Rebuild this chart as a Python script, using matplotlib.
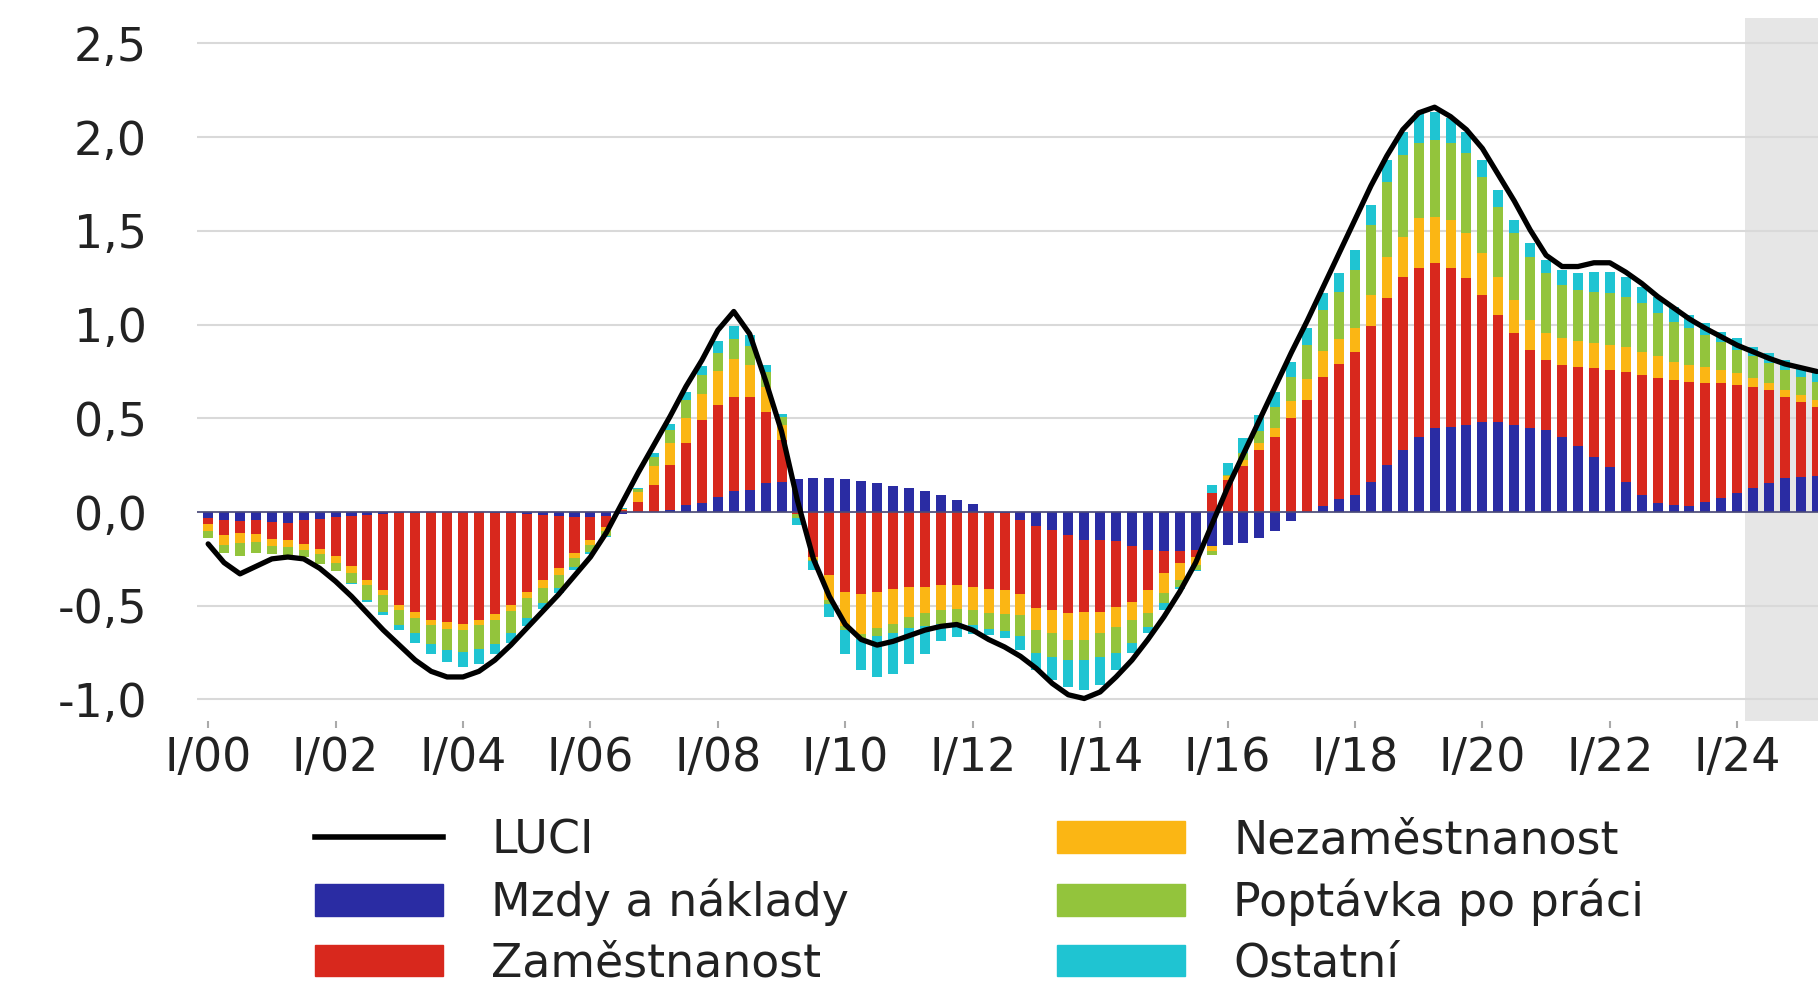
import numpy as np
import matplotlib.pyplot as plt
from matplotlib.patches import Patch
from matplotlib.lines import Line2D

plt.rcParams['font.family'] = ['DejaVu Sans']

# quarters I/00 .. II/25 (index 0 = I/00)
quarters = np.arange(102)
tick_pos = np.arange(0, 97, 8)
tick_labels = ['I/%02d' % y for y in range(0, 25, 2)]
y_ticks = [-1.0, -0.5, 0.0, 0.5, 1.0, 1.5, 2.0, 2.5]

luci = [-0.17, -0.27, -0.33, -0.29, -0.25, -0.24, -0.25, -0.30, -0.37, -0.45,
        -0.54, -0.63, -0.71, -0.79, -0.85, -0.88, -0.88, -0.85, -0.79, -0.71,
        -0.62, -0.53, -0.44, -0.34, -0.24, -0.11, 0.05, 0.21, 0.36, 0.51,
        0.67, 0.81, 0.97, 1.07, 0.95, 0.70, 0.43, 0.06, -0.25, -0.45,
        -0.60, -0.68, -0.71, -0.69, -0.66, -0.63, -0.61, -0.60, -0.63, -0.68,
        -0.72, -0.77, -0.835, -0.915, -0.975, -0.995, -0.96, -0.88, -0.79, -0.68,
        -0.56, -0.425, -0.27, -0.07, 0.13, 0.31, 0.49, 0.67, 0.85, 1.02,
        1.20, 1.38, 1.56, 1.74, 1.90, 2.04, 2.13, 2.16, 2.11, 2.04,
        1.94, 1.80, 1.66, 1.505, 1.37, 1.31, 1.31, 1.33, 1.33, 1.28,
        1.22, 1.15, 1.09, 1.03, 0.98, 0.935, 0.89, 0.855, 0.82, 0.79,
        0.77, 0.75]

mzdy = [-0.03, -0.045, -0.05, -0.045, -0.055, -0.06, -0.045, -0.035, -0.025, -0.02,
        -0.015, -0.01, -0.005, -0.003, -0.002, -0.002, -0.002, -0.002, -0.003, -0.005,
        -0.01, -0.015, -0.02, -0.025, -0.025, -0.02, -0.01, 0.0, 0.0, 0.01,
        0.035, 0.05, 0.08, 0.11, 0.12, 0.155, 0.16, 0.175, 0.18, 0.18,
        0.175, 0.163, 0.154, 0.137, 0.128, 0.11, 0.092, 0.066, 0.044, 0.0,
        -0.005, -0.04, -0.076, -0.094, -0.12, -0.147, -0.147, -0.156, -0.18, -0.2,
        -0.21, -0.21, -0.2, -0.18, -0.174, -0.165, -0.14, -0.1, -0.05, 0.0,
        0.03, 0.07, 0.09, 0.16, 0.25, 0.33, 0.40, 0.447, 0.455, 0.464,
        0.482, 0.482, 0.464, 0.447, 0.438, 0.40, 0.35, 0.295, 0.242, 0.162,
        0.09, 0.046, 0.037, 0.032, 0.055, 0.073, 0.10, 0.126, 0.153, 0.18,
        0.189, 0.19]

zamestnanost = [-0.035, -0.08, -0.06, -0.07, -0.09, -0.09, -0.125, -0.16, -0.21, -0.27,
                -0.35, -0.405, -0.49, -0.53, -0.575, -0.585, -0.595, -0.575, -0.54, -0.49,
                -0.415, -0.345, -0.28, -0.195, -0.125, -0.06, 0.01, 0.055, 0.145, 0.24,
                0.335, 0.44, 0.49, 0.505, 0.495, 0.38, 0.225, -0.01, -0.24, -0.335,
                -0.425, -0.435, -0.425, -0.41, -0.40, -0.40, -0.39, -0.39, -0.40, -0.41,
                -0.41, -0.40, -0.438, -0.429, -0.421, -0.385, -0.385, -0.349, -0.299, -0.216,
                -0.117, -0.064, -0.038, 0.10, 0.17, 0.245, 0.33, 0.40, 0.50, 0.60,
                0.69, 0.72, 0.765, 0.83, 0.89, 0.926, 0.90, 0.88, 0.845, 0.783,
                0.676, 0.57, 0.49, 0.418, 0.373, 0.385, 0.426, 0.472, 0.516, 0.587,
                0.641, 0.668, 0.668, 0.664, 0.632, 0.614, 0.578, 0.543, 0.498, 0.436,
                0.40, 0.372]

nezamestnanost = [-0.035, -0.05, -0.055, -0.045, -0.035, -0.035, -0.035, -0.027, -0.035, -0.035,
                  -0.027, -0.027, -0.027, -0.035, -0.027, -0.035, -0.035, -0.027, -0.035, -0.035,
                  -0.035, -0.045, -0.035, -0.027, -0.027, -0.02, 0.005, 0.05, 0.10, 0.12,
                  0.13, 0.14, 0.18, 0.20, 0.17, 0.13, 0.08, 0.0, -0.015, -0.135,
                  -0.185, -0.215, -0.195, -0.185, -0.16, -0.14, -0.135, -0.125, -0.125, -0.13,
                  -0.13, -0.107, -0.116, -0.125, -0.142, -0.151, -0.116, -0.107, -0.098, -0.125,
                  -0.107, -0.089, -0.045, -0.03, 0.02, 0.03, 0.04, 0.05, 0.09, 0.11,
                  0.14, 0.135, 0.126, 0.17, 0.22, 0.214, 0.27, 0.249, 0.26, 0.243,
                  0.222, 0.204, 0.176, 0.16, 0.143, 0.142, 0.134, 0.133, 0.132, 0.134,
                  0.125, 0.116, 0.095, 0.089, 0.089, 0.071, 0.062, 0.045, 0.036, 0.034,
                  0.036, 0.036]

poptavka = [-0.04, -0.045, -0.07, -0.06, -0.045, -0.045, -0.035, -0.055, -0.045, -0.055,
            -0.08, -0.09, -0.08, -0.08, -0.10, -0.115, -0.115, -0.125, -0.125, -0.115,
            -0.105, -0.08, -0.07, -0.045, -0.035, -0.03, 0.0, 0.02, 0.05, 0.07,
            0.10, 0.10, 0.10, 0.11, 0.10, 0.08, 0.04, -0.02, -0.005, -0.02,
            -0.02, -0.03, -0.04, -0.05, -0.06, -0.07, -0.075, -0.075, -0.08, -0.085,
            -0.09, -0.115, -0.124, -0.124, -0.107, -0.107, -0.124, -0.142, -0.124, -0.071,
            -0.054, -0.036, -0.027, -0.02, 0.01, 0.04, 0.06, 0.11, 0.13, 0.18,
            0.22, 0.25, 0.31, 0.37, 0.40, 0.436, 0.398, 0.41, 0.408, 0.425,
            0.41, 0.374, 0.358, 0.338, 0.32, 0.285, 0.275, 0.276, 0.277, 0.267,
            0.258, 0.23, 0.216, 0.195, 0.169, 0.151, 0.125, 0.116, 0.107, 0.108,
            0.097, 0.098]

ostatni = [0.0, 0.0, 0.0, 0.0, 0.0, 0.0, 0.0, 0.0, 0.0, -0.005,
           -0.008, -0.018, -0.027, -0.053, -0.053, -0.062, -0.08, -0.08, -0.053, -0.053,
           -0.045, -0.035, -0.027, -0.018, -0.01, -0.005, 0.005, 0.005, 0.02, 0.03,
           0.04, 0.05, 0.06, 0.07, 0.06, 0.04, 0.02, -0.04, -0.05, -0.07,
           -0.125, -0.165, -0.22, -0.22, -0.19, -0.145, -0.09, -0.075, -0.045, -0.03,
           -0.035, -0.072, -0.089, -0.125, -0.142, -0.16, -0.151, -0.089, -0.053, -0.036,
           -0.035, -0.01, -0.005, 0.045, 0.06, 0.08, 0.09, 0.08, 0.08, 0.09,
           0.09, 0.10, 0.105, 0.11, 0.12, 0.12, 0.16, 0.151, 0.132, 0.115,
           0.089, 0.089, 0.071, 0.071, 0.071, 0.08, 0.089, 0.107, 0.116, 0.106,
           0.089, 0.089, 0.08, 0.072, 0.062, 0.054, 0.062, 0.053, 0.053, 0.053,
           0.054, 0.044]

series = [
    ('Mzdy a náklady', mzdy, '#2a2ca3'),
    ('Zaměstnanost', zamestnanost, '#d8281d'),
    ('Nezaměstnanost', nezamestnanost, '#fbb614'),
    ('Poptávka po práci', poptavka, '#93c43c'),
    ('Ostatní', ostatni, '#1fc4d2'),
]

fig = plt.figure(figsize=(18.18, 10), dpi=100)
ax = fig.add_axes([197 / 1818, 0.279, 1 - 197 / 1818, 0.703])

# shaded part at the end
ax.axvspan(96.5, 102, color='#e6e6e6', zorder=0, lw=0)

pos_base = np.zeros(len(quarters))
neg_base = np.zeros(len(quarters))
for name, vals, col in series:
    v = np.array(vals)
    pos = np.where(v > 0, v, 0)
    neg = np.where(v < 0, v, 0)
    ax.bar(quarters, pos, bottom=pos_base, width=0.63, color=col, lw=0, zorder=2)
    ax.bar(quarters, neg, bottom=neg_base, width=0.63, color=col, lw=0, zorder=2)
    pos_base += pos
    neg_base += neg

ax.axhline(0, color='#4a4a7a', lw=1.2, zorder=3)
ax.plot(quarters, luci, color='black', lw=3.8, zorder=4,
        solid_capstyle='round', solid_joinstyle='round')

ax.set_xlim(-0.7, 101.07)
ax.set_ylim(-1.115, 2.636)
ax.set_yticks(y_ticks)
ax.set_yticklabels([('%.1f' % t).replace('.', ',') for t in y_ticks])
ax.set_xticks(tick_pos)
ax.set_xticklabels(tick_labels)
ax.grid(axis='y', color='#d9d9d9', lw=1.5, zorder=1)
ax.set_axisbelow(True)
for s in ax.spines.values():
    s.set_visible(False)
ax.tick_params(axis='y', length=0, pad=36, labelsize=33, labelcolor='#222222')
ax.tick_params(axis='x', length=5, width=1.5, color='#aaaaaa', pad=6,
               labelsize=33, labelcolor='#222222')

h1 = [Line2D([0], [0], color='black', lw=4),
      Patch(color=series[0][2]), Patch(color=series[1][2])]
l1 = ['LUCI', series[0][0], series[1][0]]
h2 = [Patch(color=series[2][2]), Patch(color=series[3][2]), Patch(color=series[4][2])]
l2 = [series[2][0], series[3][0], series[4][0]]

kw = dict(frameon=False, fontsize=33, handlelength=2.8, handleheight=0.68,
          handletextpad=1.05, labelspacing=0.34, borderpad=0, borderaxespad=0,
          loc='upper left')
leg1 = fig.legend(h1, l1, bbox_to_anchor=(315 / 1818, 0.182), **kw)
leg2 = fig.legend(h2, l2, bbox_to_anchor=(1057 / 1818, 0.182), **kw)
for leg in (leg1, leg2):
    for t in leg.get_texts():
        t.set_color('#222222')

fig.savefig('out.png', dpi=100)
